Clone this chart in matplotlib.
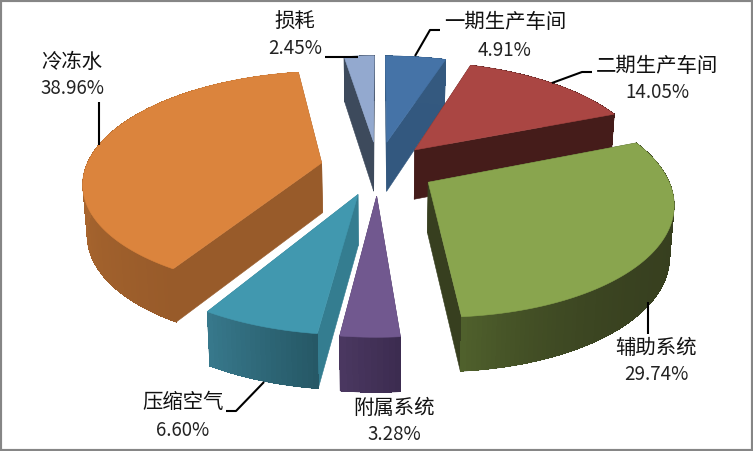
"""Exploded 3D pie, drawn by hand since matplotlib has no perspective pie."""
import numpy as np
import matplotlib
matplotlib.use("Agg")
import matplotlib.pyplot as plt
import matplotlib.colors as mcolors

plt.rcParams['font.family'] = ['Noto Sans CJK SC', 'DejaVu Sans']

names = ["一期生产车间", "二期生产车间", "辅助系统", "附属系统", "压缩空气", "冷冻水", "损耗"]
values = [4.91, 14.05, 29.74, 3.28, 6.60, 38.96, 2.45]

top_colors = ["#4573A7", "#AA4643", "#89A54E", "#71588F", "#4198AF", "#DB843D", "#93A9CF"]
side_colors = ["#33587F", "#451C1A", "#373F1F", "#4A3760", "#347D90", "#985B2A", "#3D4A5C"]
rim_start = ["#34597F", "#451C1A", "#373F1F", "#3C2C50", "#265866", "#985B2A", "#3D4A5C"]
rim_end = ["#34597F", "#451C1A", "#4F602C", "#4A3760", "#37788B", "#C57836", "#3D4A5C"]
rim_power = [1, 1, 5, 1, 1, 1, 1]
explode = [0.25, 0.235, 0.245, 0.25, 0.25, 0.245, 0.25]

# projection settings, pixels of the 753x451 canvas
CX, CY = 378, 168
AX, AY = 236, 108
PERSP = 0.162
WALL = 50
WALL_TILT = 0.08


def project(x, y, low=False):
    w = 1 + PERSP * y
    px = AX * x / w
    py = AY * y / w
    if low:
        return CX + px * 0.985, CY - py + WALL * (1 - WALL_TILT * y)
    return CX + px, CY - py


fig = plt.figure(figsize=(7.53, 4.51), dpi=100)
ax = fig.add_axes([0, 0, 1, 1])
ax.set_xlim(0, 753)
ax.set_ylim(451, 0)
ax.set_axis_off()

shares = np.array(values) / sum(values) * 2 * np.pi
ends = np.cumsum(shares)
starts = ends - shares
mids = (starts + ends) / 2
dx = np.array(explode) * np.sin(mids)
dy = np.array(explode) * np.cos(mids)


def fill(pts, color, z, aa=True):
    xs, ys = zip(*pts)
    ax.fill(xs, ys, facecolor=color, edgecolor=color if aa else "none",
            lw=0.4, zorder=z, antialiased=aa)


# back slices first
order = np.argsort(-dy)
for z, i in enumerate(order):
    base = z * 10
    th = np.linspace(starts[i], ends[i], max(6, int(np.degrees(shares[i]))))
    rx = np.sin(th) + dx[i]
    ry = np.cos(th) + dy[i]
    # radial walls
    for k in (0, -1):
        fill([project(dx[i], dy[i]), project(rx[k], ry[k]),
              project(rx[k], ry[k], True), project(dx[i], dy[i], True)],
             side_colors[i], base)
    # rim wall: smooth outline underneath, then the shading along the arc
    upper = [project(a, b) for a, b in zip(rx, ry)]
    lower = [project(a, b, True) for a, b in zip(rx, ry)]
    fill(upper + lower[::-1], rim_start[i], base + 1)
    c0 = np.array(mcolors.to_rgb(rim_start[i]))
    c1 = np.array(mcolors.to_rgb(rim_end[i]))
    for k in range(len(th) - 1):
        t = (k / max(len(th) - 2, 1)) ** rim_power[i]
        fill([upper[k], upper[k + 1], lower[k + 1], lower[k]],
             tuple(c0 + (c1 - c0) * t), base + 1, aa=False)
    # top face
    fill([project(dx[i], dy[i])] + upper, top_colors[i], base + 2)

# leader lines
leaders = [
    ([415, 430, 440], [56, 30, 30]),
    ([552, 582, 592], [83, 72, 72]),
    ([648, 648], [302, 334]),
    ([264, 236, 226], [382, 411, 411]),
    ([99, 99], [145, 102]),
    ([325, 358], [57, 57]),
]
for lx, ly in leaders:
    ax.plot(lx, ly, color="black", lw=1.5, zorder=200, solid_capstyle="butt")

# labels: name on the first line, percent on the second
label_pos = [(505, 35), (657, 78), (656, 360), (394, 420), (183, 415), (72, 74), (295, 34)]
for name, val, (lx, ly) in zip(names, values, label_pos):
    ax.text(lx, ly - 12, name, ha="center", va="center", fontsize=14.7, color="#111111", zorder=210)
    ax.text(lx, ly + 15, f"{val:.2f}%", ha="center", va="center", fontsize=13.5, color="#222222", zorder=210)

# grey frame round the chart
fig.patches.append(plt.Rectangle((0, 0), 1, 1, transform=fig.transFigure, fill=False,
                                 edgecolor="#868686", lw=3))

fig.savefig("out.png", dpi=100, facecolor="white")
plt.close(fig)
